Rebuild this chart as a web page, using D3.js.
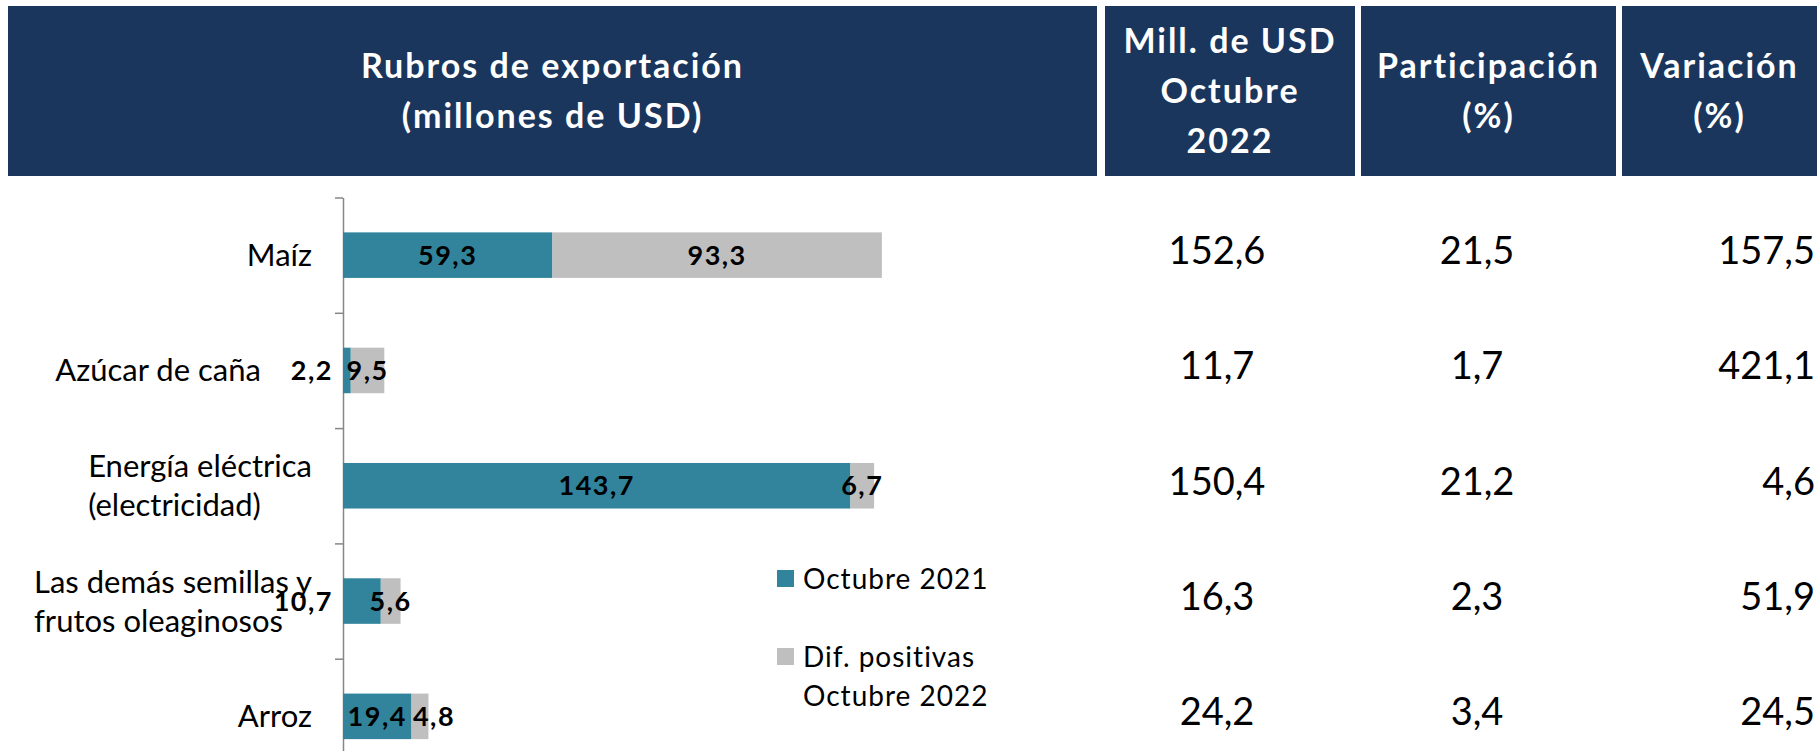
<!DOCTYPE html>
<html>
<head>
<meta charset="utf-8">
<script src="https://cdn.jsdelivr.net/npm/d3@7"></script>
<style>
  body { margin: 0; background: #fff; }
  svg { display: block; font-family: Lato, "Open Sans", sans-serif; }
</style>
</head>
<body>
<div class="chart"></div>
<script>
// categories (each entry = the lines of the axis label)
const categorias = [
	["Maíz"],
	["Azúcar de caña"],
	["Energía eléctrica", "(electricidad)"],
	["Las demás semillas y", "frutos oleaginosos"],
	["Arroz"]
];
const octubre2021 = [59.3, 2.2, 143.7, 10.7, 19.4];
const difPositivas = [93.3, 9.5, 6.7, 5.6, 4.8];

// table columns at the right
const millUSD = [152.6, 11.7, 150.4, 16.3, 24.2];
const participacion = [21.5, 1.7, 21.2, 2.3, 3.4];
const variacion = [157.5, 421.1, 4.6, 51.9, 24.5];

const encabezados = [
	{ lines: ["Rubros de exportación", "(millones de USD)"], x0: 8, x1: 1097 },
	{ lines: ["Mill. de USD", "Octubre", "2022"], x0: 1105, x1: 1355 },
	{ lines: ["Participación", "(%)"], x0: 1361, x1: 1616 },
	{ lines: ["Variación", "(%)"], x0: 1622, x1: 1817 }
];
const leyenda = [
	{ lines: ["Octubre 2021"], color: "#31849b" },
	{ lines: ["Dif. positivas", "Octubre 2022"], color: "#bfbfbf" }
];

const W = 1819, H = 751;
const fmt = d3.formatLocale({ decimal: ",", thousands: ".", grouping: [3], currency: ["", ""] }).format(".1f");

const svg = d3.select('.chart')
	.append('svg')
	.attr('width', W)
	.attr('height', H);

// header blocks
const head = svg.append('g');
encabezados.forEach(h => {
	head.append('rect')
		.attr('x', h.x0)
		.attr('y', 6)
		.attr('width', h.x1 - h.x0)
		.attr('height', 170)
		.attr('fill', '#1a365d');
	const n = h.lines.length;
	h.lines.forEach((t, i) => {
		head.append('text')
			.text(t)
			.attr('x', (h.x0 + h.x1) / 2)
			.attr('y', 91 + (i - (n - 1) / 2) * 50 + 12)
			.attr('text-anchor', 'middle')
			.attr('fill', '#fff')
			.attr('font-size', '34px')
			.attr('font-weight', 700)
			.attr('letter-spacing', '2px');
	});
});

// scales
const idx = d3.range(categorias.length);
const x = d3.scaleLinear().domain([0, 160]).range([343, 908]);
const y = d3.scaleBand()
	.domain(idx)
	.range([197.5, 197.5 + 5 * 115.3])
	.paddingInner(0.605)
	.paddingOuter(0.3025);
const yEdge = d3.scaleLinear().domain([0, idx.length]).range(y.range());

// axis with ticks between categories
const axis = svg.append('g')
	.attr('transform', `translate(${x(0)},0)`)
	.call(d3.axisLeft(yEdge).tickValues(d3.range(idx.length + 1)).tickSize(8).tickSizeOuter(0).tickFormat(''));
axis.selectAll('path, line').attr('stroke', '#868686').attr('stroke-width', 1.5);

// bars
const bars = svg.append('g');
bars.selectAll('rect.a')
	.data(idx)
	.join('rect')
	.attr('class', 'a')
	.attr('x', x(0))
	.attr('y', i => y(i))
	.attr('width', i => x(octubre2021[i]) - x(0))
	.attr('height', y.bandwidth())
	.attr('fill', '#31849b');
bars.selectAll('rect.b')
	.data(idx)
	.join('rect')
	.attr('class', 'b')
	.attr('x', i => x(octubre2021[i]))
	.attr('y', i => y(i))
	.attr('width', i => x(octubre2021[i] + difPositivas[i]) - x(octubre2021[i]))
	.attr('height', y.bandwidth())
	.attr('fill', '#bfbfbf');

// data labels (first-series labels that do not fit go left of the axis)
const labels = svg.append('g')
	.attr('font-size', '27px')
	.attr('font-weight', 700)
	.attr('letter-spacing', '1.5px')
	.attr('fill', '#000');
const outsideLeft = [];
idx.forEach(i => {
	const cy = y(i) + y.bandwidth() / 2;
	const a0 = x(0), a1 = x(octubre2021[i]), b1 = x(octubre2021[i] + difPositivas[i]);
	const la = labels.append('text')
		.text(fmt(octubre2021[i]))
		.attr('y', cy)
		.attr('dy', '0.36em');
	const wa = la.node().getComputedTextLength();
	let aRight;
	if (wa > a1 - a0) {
		la.attr('x', a0 - 10).attr('text-anchor', 'end');
		aRight = a0 - 10;
		outsideLeft[i] = a0 - 10 - wa;
	} else {
		la.attr('x', (a0 + a1) / 2).attr('text-anchor', 'middle');
		aRight = (a0 + a1) / 2 + wa / 2;
	}
	const lb = labels.append('text')
		.text(fmt(difPositivas[i]))
		.attr('y', cy)
		.attr('dy', '0.36em')
		.attr('text-anchor', 'middle');
	const wb = lb.node().getComputedTextLength();
	let bx = (a1 + b1) / 2;
	if (bx - wb / 2 < aRight + 6) bx = aRight + 6 + wb / 2;
	lb.attr('x', bx);
});

// category labels: block right aligned, lines left aligned;
// single-line labels step aside for an outside data label
const cat = svg.append('g')
	.attr('font-size', '31px')
	.attr('fill', '#000');
categorias.forEach((lines, i) => {
	const cy = y(i) + y.bandwidth() / 2;
	const n = lines.length;
	const g = cat.append('g');
	const texts = lines.map((t, k) => g.append('text')
		.text(t)
		.attr('y', cy + (k - (n - 1) / 2) * 39 + 11));
	const maxW = d3.max(texts, t => t.node().getComputedTextLength());
	let right = 312;
	if (n === 1 && outsideLeft[i] !== undefined) right = Math.min(right, outsideLeft[i] - 30);
	texts.forEach(t => t.attr('x', right - maxW));
});

// table values
const tabla = svg.append('g')
	.attr('font-size', '38px')
	.attr('fill', '#000');
const columnas = [
	{ vals: millUSD, x: 1217, anchor: 'middle' },
	{ vals: participacion, x: 1477, anchor: 'middle' },
	{ vals: variacion, x: 1815, anchor: 'end' }
];
columnas.forEach(c => {
	tabla.append('g')
		.selectAll('text')
		.data(c.vals)
		.join('text')
		.text(d => fmt(d))
		.attr('x', c.x)
		.attr('y', (d, i) => y(i) + y.bandwidth() / 2 + 9)
		.attr('text-anchor', c.anchor);
});

// legend
const leg = svg.append('g')
	.attr('font-size', '28px')
	.attr('letter-spacing', '1px');
leyenda.forEach((l, i) => {
	const top = 570 + i * 78;
	leg.append('rect')
		.attr('x', 777)
		.attr('y', top)
		.attr('width', 17)
		.attr('height', 17)
		.attr('fill', l.color);
	l.lines.forEach((t, k) => {
		leg.append('text')
			.text(t)
			.attr('x', 803)
			.attr('y', top + 19 + k * 39);
	});
});
</script>
</body>
</html>
